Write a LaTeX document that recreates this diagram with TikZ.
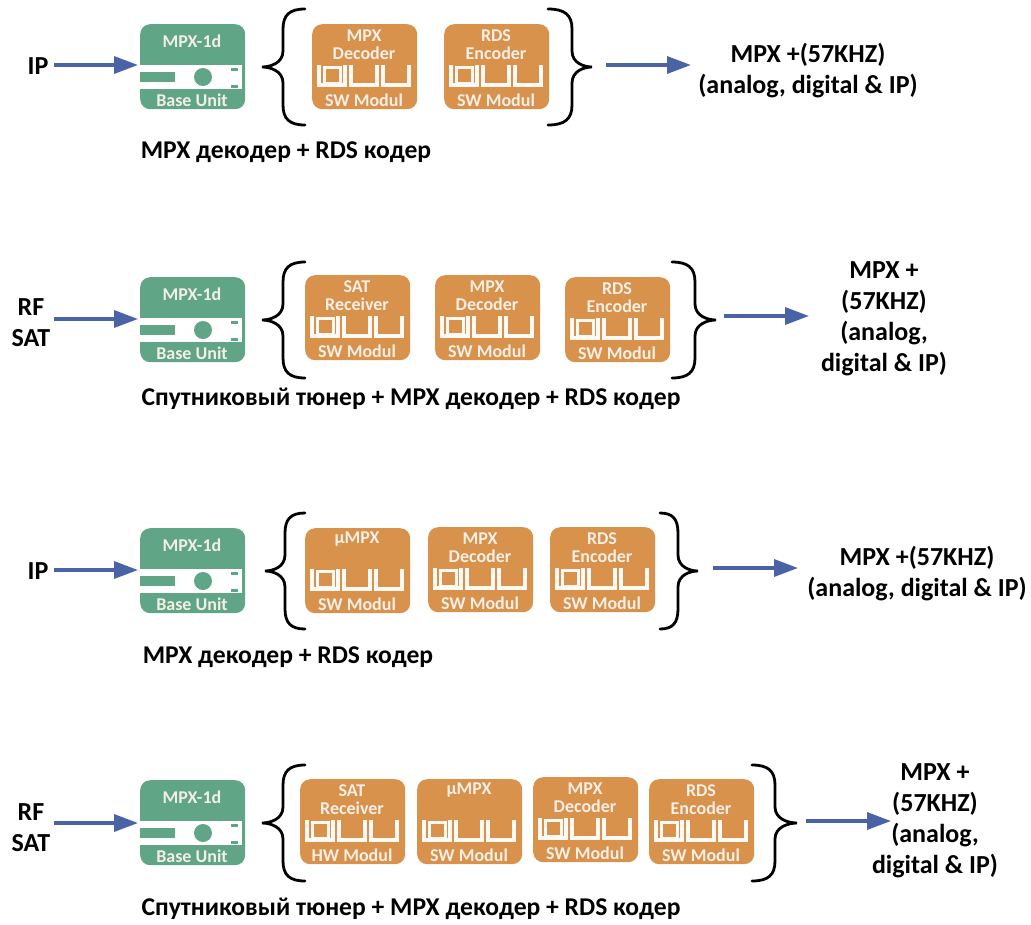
\documentclass[tikz,border=0pt]{standalone}
\usepackage{fontspec}
\setmainfont{Carlito}
\usetikzlibrary{arrows.meta}
\definecolor{grn}{HTML}{5FA586}
\definecolor{org}{HTML}{D8924C}
\definecolor{arr}{HTML}{4A62A6}
\definecolor{pale}{HTML}{F3EFE6}
\tikzset{x=1pt,y=-1pt,
 lbl/.style={font=\fontsize{26}{31}\selectfont\bfseries,align=center,text=black,inner sep=0pt},
 captxt/.style={font=\fontsize{25.6}{28}\selectfont\bfseries,text=black,inner sep=0pt},
 modtxt/.style={font=\fontsize{18}{18}\selectfont\bfseries,text=pale,align=center,inner sep=0pt},
 basebox/.style={fill=grn,rounded corners=10pt,minimum width=105pt,minimum height=85pt,inner sep=0pt},
 modbox/.style={fill=org,rounded corners=10pt,minimum width=105pt,minimum height=85pt,inner sep=0pt},
 arrow/.style={draw=arr,line width=3.4pt,-{Triangle[length=24pt,width=17pt]}},
 brace/.style={draw=black,line width=2.8pt,line cap=round},
 tub/.style={draw=white!95!org,line width=3.6pt},
 tubin/.style={draw=white!95!org,line width=3pt}}
% base unit: name, left, top
\newcommand{\baseunit}[3]{%
 \node[basebox,anchor=north west] (#1) at (#2,#3) {};
 \begin{scope}[shift={(#2,#3)}]
  \fill[white] (0,41) rectangle (102,65);
  \fill[grn] (0,48) rectangle (35,58);
  \fill[grn] (63,53) circle (9);
  \fill[grn] (91,44) rectangle (98,47);
  \fill[grn] (91,61) rectangle (98,64);
  \node[modtxt] at (52,17) {MPX-1d};
  \node[modtxt] at (52,76) {Base Unit};
 \end{scope}}
% module: name, left, top, upper text, lower text
\newcommand{\swmod}[5]{%
 \node[modbox,anchor=north west] (#1) at (#2,#3) {};
 \begin{scope}[shift={(#2,#3)}]
  \node[modtxt] at (52,21) {#4};
  \node[modtxt] at (52,76) {#5};
  \draw[tub] (7,41) -- (7,61) -- (33,61) -- (33,41);
  \draw[tubin] (12,43) rectangle (28,59);
  \draw[tub] (39,41) -- (39,61) -- (65,61) -- (65,41);
  \draw[tub] (71,41) -- (71,61) -- (97,61) -- (97,41);
 \end{scope}}
% brace: tip x, tip y, end x, spine x, half height
\newcommand{\mybrace}[5]{%
 \pgfmathsetmacro{\ya}{#2-#5}
 \pgfmathsetmacro{\yb}{#2-#5+6}
 \pgfmathsetmacro{\yc}{#2-#5+20}
 \pgfmathsetmacro{\yd}{#2-16}
 \pgfmathsetmacro{\ye}{#2-4}
 \pgfmathsetmacro{\yf}{#2+4}
 \pgfmathsetmacro{\yg}{#2+16}
 \pgfmathsetmacro{\yh}{#2+#5-20}
 \pgfmathsetmacro{\yi}{#2+#5-6}
 \pgfmathsetmacro{\yj}{#2+#5}
 \pgfmathsetmacro{\xa}{#4+(#3-#4)*0.3}
 \pgfmathsetmacro{\xb}{#1+(#4-#1)*0.4}
 \draw[brace] (#3,\ya) .. controls (\xa,\ya) and (#4,\yb) .. (#4,\yc)
  -- (#4,\yd) .. controls (#4,\ye) and (\xb,#2) .. (#1,#2)
  .. controls (\xb,#2) and (#4,\yf) .. (#4,\yg)
  -- (#4,\yh) .. controls (#4,\yi) and (\xa,\yj) .. (#3,\yj);}
\begin{document}
\begin{tikzpicture}
\useasboundingbox (0,0) rectangle (1031,924);
% Row 1
\baseunit{b1}{140}{24}
\swmod{m11}{312}{24}{MPX\\Decoder}{SW Modul}
\swmod{m12}{444}{24}{RDS\\Encoder}{SW Modul}
\mybrace{262}{67}{305}{283}{58}
\mybrace{592}{67}{548}{572}{58}
\node[lbl] (in1) at (38,66) {IP};
\node[lbl] (out1) at (808,71) {MPX +(57KHZ)\\(analog, digital \& IP)};
\node[captxt] (c1) at (286,152) {MPX декодер + RDS кодер};
\coordinate (s1) at (606,65); \coordinate (e1) at (691,65);
\coordinate (w1) at (54,65);
\draw[arrow] (w1) -- ([xshift=-2pt]b1.west |- w1);
\draw[arrow] (s1) -- (e1);
% Row 2
\baseunit{b2}{140}{277}
\swmod{m21}{305}{275}{SAT\\Receiver}{SW Modul}
\swmod{m22}{435}{275}{MPX\\Decoder}{SW Modul}
\swmod{m23}{565}{277}{RDS\\Encoder}{SW Modul}
\mybrace{262}{320}{305}{283}{58}
\mybrace{716}{320}{672}{695}{58}
\node[lbl] (in2) at (31,323) {RF\\SAT};
\node[lbl] (out2) at (884,319) {MPX +\\(57KHZ)\\(analog,\\digital \& IP)};
\node[captxt] (c2) at (411,399) {Спутниковый тюнер + MPX декодер + RDS кодер};
\coordinate (s2) at (724,316); \coordinate (e2) at (809,316);
\coordinate (w2) at (54,319);
\draw[arrow] (w2) -- ([xshift=-2pt]b2.west |- w2);
\draw[arrow] (s2) -- (e2);
% Row 3
\baseunit{b3}{140}{528}
\swmod{m31}{305}{528}{µMPX\\\strut}{SW Modul}
\swmod{m32}{428}{527}{MPX\\Decoder}{SW Modul}
\swmod{m33}{550}{527}{RDS\\Encoder}{SW Modul}
\mybrace{265}{571}{305}{285}{58}
\mybrace{698}{571}{660}{678}{58}
\node[lbl] (in3) at (38,571) {IP};
\node[lbl] (out3) at (917,574) {MPX +(57KHZ)\\(analog, digital \& IP)};
\node[captxt] (c3) at (288,657) {MPX декодер + RDS кодер};
\coordinate (s3) at (713,568); \coordinate (e3) at (798,568);
\coordinate (w3) at (54,570);
\draw[arrow] (w3) -- ([xshift=-2pt]b3.west |- w3);
\draw[arrow] (s3) -- (e3);
% Row 4
\baseunit{b4}{140}{780}
\swmod{m41}{300}{779}{SAT\\Receiver}{HW Modul}
\swmod{m42}{417}{779}{µMPX\\\strut}{SW Modul}
\swmod{m43}{533}{777}{MPX\\Decoder}{SW Modul}
\swmod{m44}{649}{779}{RDS\\Encoder}{SW Modul}
\mybrace{262}{823}{305}{283}{58}
\mybrace{797}{823}{752}{775}{58}
\node[lbl] (in4) at (31,828) {RF\\SAT};
\node[lbl] (out4) at (935,821) {MPX +\\(57KHZ)\\(analog,\\digital \& IP)};
\node[captxt] (c4) at (411,909) {Спутниковый тюнер + MPX декодер + RDS кодер};
\coordinate (s4) at (806,821); \coordinate (e4) at (891,821);
\coordinate (w4) at (54,823);
\draw[arrow] (w4) -- ([xshift=-2pt]b4.west |- w4);
\draw[arrow] (s4) -- (e4);
\end{tikzpicture}
\end{document}
